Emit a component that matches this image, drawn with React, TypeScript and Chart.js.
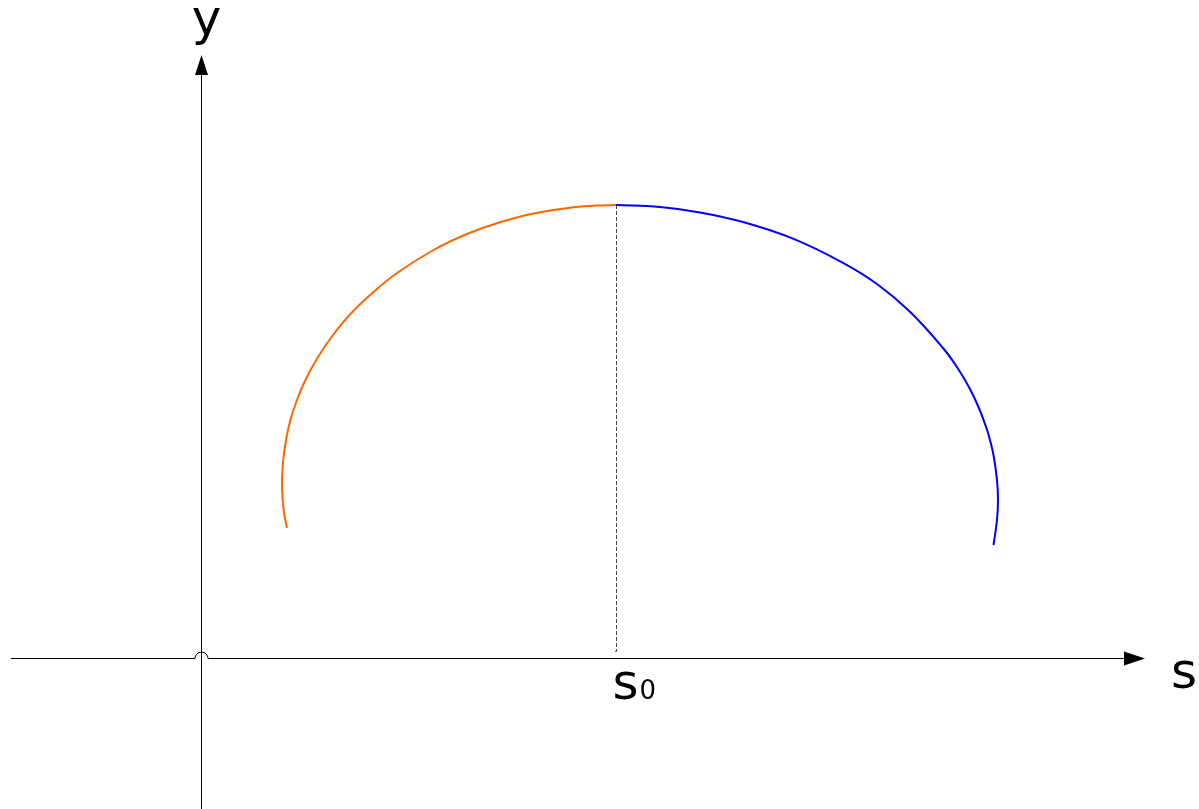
import { useEffect, useRef } from "react";
import { Chart, registerables } from "chart.js";

Chart.register(...registerables);

// Orange branch (left of s0)
const orangeS = [0.86, 0.834, 0.817, 0.81, 0.82, 0.85, 0.894, 0.96, 1.044, 1.164, 1.32, 1.485, 1.69, 1.96, 2.326, 2.66, 2.998, 3.35, 3.75, 3.95, 4.15];
const orangeY = [1.3, 1.43, 1.58, 1.76, 1.96, 2.18, 2.38, 2.58, 2.78, 3.0, 3.23, 3.43, 3.63, 3.85, 4.08, 4.24, 4.36, 4.45, 4.51, 4.525, 4.53];

// Blue branch (right of s0)
const blueS = [4.15, 4.59, 4.99, 5.42, 5.92, 6.42, 6.76, 7.09, 7.42, 7.566, 7.69, 7.779, 7.856, 7.89, 7.925, 7.96, 7.97, 7.96, 7.925];
const blueY = [4.53, 4.51, 4.456, 4.36, 4.194, 3.952, 3.74, 3.462, 3.1, 2.9, 2.69, 2.5, 2.295, 2.18, 2.03, 1.78, 1.58, 1.38, 1.13];

// Marker s0 and the peak
const s0Value = [4.15];
const peakValue = [4.53];

// Axis extents (data units)
const xRange = [-2.01, 9.98];
const yRange = [-1.51, 6.58];
const xAxisExtent = [-1.9, 9.44];
const yAxisExtent = [-1.51, 6.03];

const axisLabels = ["s", "y"];
const s0Label = ["s", "0"];

export default function App() {
  const canvasRef = useRef<HTMLCanvasElement | null>(null);

  useEffect(() => {
    document.body.style.margin = "0";
    const canvas = canvasRef.current;
    if (!canvas) return;

    const axesPlugin = {
      id: "axesPlugin",
      beforeDatasetsDraw(chart: any) {
        const ctx = chart.ctx as CanvasRenderingContext2D;
        const xs = chart.scales.x;
        const ys = chart.scales.y;
        const ox = Math.round(xs.getPixelForValue(0)) + 0.5;
        const oy = Math.round(ys.getPixelForValue(0)) + 0.5;
        const xStart = xs.getPixelForValue(xAxisExtent[0]);
        const xEnd = xs.getPixelForValue(xAxisExtent[1]);
        const yBottom = ys.getPixelForValue(yAxisExtent[0]);
        const yTop = ys.getPixelForValue(yAxisExtent[1]);
        ctx.save();
        ctx.strokeStyle = "#000";
        ctx.fillStyle = "#000";
        ctx.lineWidth = 1;

        // y axis
        ctx.beginPath();
        ctx.moveTo(ox, yBottom);
        ctx.lineTo(ox, yTop + 18);
        ctx.stroke();
        ctx.beginPath();
        ctx.moveTo(ox, yTop);
        ctx.lineTo(ox - 6.5, yTop + 20);
        ctx.lineTo(ox + 6.5, yTop + 20);
        ctx.closePath();
        ctx.fill();

        // x axis with hump over the y axis
        const r = 6.5;
        ctx.beginPath();
        ctx.moveTo(xStart, oy);
        ctx.lineTo(ox - r, oy);
        ctx.arc(ox, oy, r, Math.PI, 0, false);
        ctx.lineTo(xEnd - 19, oy);
        ctx.stroke();
        ctx.beginPath();
        ctx.moveTo(xEnd, oy);
        ctx.lineTo(xEnd - 21, oy - 7);
        ctx.lineTo(xEnd - 21, oy + 7);
        ctx.closePath();
        ctx.fill();

        // dashed guide at s0
        const sx = Math.round(xs.getPixelForValue(s0Value[0])) + 0.5;
        const py = ys.getPixelForValue(peakValue[0]);
        ctx.strokeStyle = "#444";
        ctx.lineWidth = 1;
        ctx.setLineDash([4, 2]);
        ctx.beginPath();
        ctx.moveTo(sx, py);
        ctx.lineTo(sx, oy - 7);
        ctx.lineTo(sx - 3, oy - 7);
        ctx.stroke();
        ctx.setLineDash([]);

        // labels
        ctx.fillStyle = "#000";
        ctx.textBaseline = "alphabetic";
        ctx.font = "50px 'DejaVu Sans'";
        ctx.textAlign = "center";
        ctx.fillText(axisLabels[1], ox + 5, yTop - 20);
        ctx.textAlign = "left";
        ctx.fillText(axisLabels[0], xEnd + 26, oy + 29);
        ctx.fillText(s0Label[0], sx - 4, oy + 40);
        const w = ctx.measureText(s0Label[0]).width;
        ctx.font = "26px 'DejaVu Sans'";
        ctx.fillText(s0Label[1], sx - 4 + w + 1, oy + 40);
        ctx.restore();
      },
    };

    const chart = new Chart(canvas, {
      type: "scatter",
      data: {
        datasets: [
          {
            data: orangeS.map((s, i) => ({ x: s, y: orangeY[i] })),
            showLine: true,
            borderColor: "#FF6600",
            borderWidth: 2,
            pointRadius: 0,
            tension: 0.4,
            fill: false,
          },
          {
            data: blueS.map((s, i) => ({ x: s, y: blueY[i] })),
            showLine: true,
            borderColor: "#0000FF",
            borderWidth: 2,
            pointRadius: 0,
            tension: 0.4,
            fill: false,
          },
        ],
      },
      options: {
        animation: false,
        responsive: false,
        devicePixelRatio: 1,
        layout: { padding: 0 },
        plugins: {
          legend: { display: false },
          tooltip: { enabled: false },
          title: { display: false },
        },
        scales: {
          x: { type: "linear", min: xRange[0], max: xRange[1], display: false },
          y: { type: "linear", min: yRange[0], max: yRange[1], display: false },
        },
      },
      plugins: [axesPlugin],
    });

    return () => chart.destroy();
  }, []);

  return (
    <div style={{ width: 1199, height: 809, background: "#fff" }}>
      <canvas ref={canvasRef} width={1199} height={809} style={{ width: 1199, height: 809, display: "block" }} />
    </div>
  );
}
